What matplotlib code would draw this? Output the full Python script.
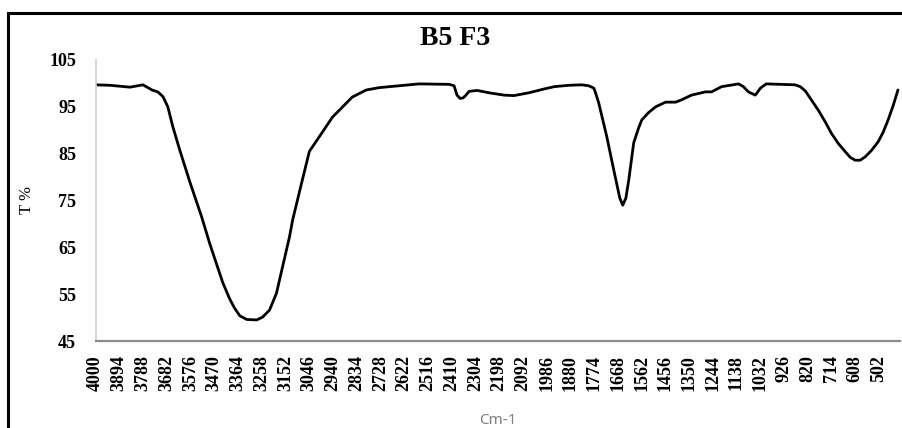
import numpy as np
import matplotlib

matplotlib.use('Agg')
import matplotlib.pyplot as plt
from matplotlib.lines import Line2D
from matplotlib.font_manager import FontProperties

# FTIR spectrum of sample B5 F3 (wavenumber in cm-1, transmittance in %)
wavenumber = [4000, 3935, 3846, 3788, 3748, 3722, 3699, 3677, 3655, 3624,
              3579, 3526, 3490, 3432, 3401, 3379, 3356, 3325, 3280, 3254,
              3223, 3192, 3165, 3134, 3120, 3080, 3045, 3001, 2942, 2853,
              2791, 2733, 2644, 2555, 2421, 2399, 2386, 2372, 2359, 2346,
              2332, 2296, 2243, 2176, 2132, 2065, 1998, 1953, 1887, 1829,
              1798, 1775, 1766, 1753, 1717, 1686, 1659, 1646, 1632, 1619,
              1597, 1575, 1561, 1530, 1499, 1455, 1410, 1383, 1339, 1276,
              1249, 1205, 1129, 1107, 1085, 1054, 1031, 1005, 876, 853,
              831, 804, 773, 742, 715, 684, 652, 630, 608, 586,
              564, 537, 506, 484, 461, 439, 417]
transmittance = [99.7, 99.6, 99.2, 99.7, 98.6, 98.2, 97.2, 95.0, 90.8, 85.8,
                 79.0, 71.5, 65.8, 57.5, 54.0, 52.0, 50.4, 49.6, 49.5, 50.1,
                 51.6, 55.2, 60.8, 67.2, 70.8, 78.7, 85.5, 88.6, 92.8, 97.1,
                 98.6, 99.1, 99.5, 99.9, 99.8, 99.5, 97.5, 96.8, 96.9, 97.5,
                 98.3, 98.5, 98.0, 97.5, 97.4, 98.0, 98.8, 99.3, 99.6, 99.7,
                 99.5, 99.0, 97.8, 95.8, 88.6, 81.5, 75.5, 74.0, 75.5, 79.4,
                 87.3, 90.5, 92.2, 93.8, 95.0, 96.0, 96.0, 96.5, 97.5, 98.2,
                 98.2, 99.3, 99.9, 99.3, 98.2, 97.5, 99.0, 99.9, 99.7, 99.3,
                 98.4, 96.5, 94.3, 91.8, 89.4, 87.2, 85.4, 84.2, 83.6, 83.6,
                 84.3, 85.6, 87.5, 89.5, 92.2, 95.2, 98.6]

xticks = np.arange(4000, 450, -106)
yticks = [45, 55, 65, 75, 85, 95, 105]

W, H = 902, 428
fig = plt.figure(figsize=(W / 100, H / 100), dpi=100)
ax = fig.add_axes([95.5 / W, (H - 341) / H, (900 - 95.5) / W, (341 - 60) / H])

ax.plot(wavenumber, transmittance, color='black', lw=2.0,
        solid_joinstyle='round', solid_capstyle='round')

ax.set_xlim(4000, 408)
ax.set_ylim(45, 105)
ax.set_xticks(xticks)
ax.set_xticklabels([str(t) for t in xticks], rotation=90)
ax.set_yticks(yticks)

tick_font = FontProperties(family='Liberation Serif', weight='bold', size=13)
for lab in ax.get_xticklabels() + ax.get_yticklabels():
    lab.set_fontproperties(tick_font)
ax.tick_params(axis='both', length=0)
ax.tick_params(axis='y', pad=14)
ax.tick_params(axis='x', pad=10)

for side in ['top', 'right']:
    ax.spines[side].set_visible(False)
ax.spines['left'].set_color('#d0d0d0')
ax.spines['left'].set_linewidth(1.2)
ax.spines['bottom'].set_color('#8c8c8c')
ax.spines['bottom'].set_linewidth(1.6)

fig.text(455 / W, 1 - 38.5 / H, 'B5 F3', ha='center', va='center',
         family='Liberation Serif', weight='bold', size=20)
fig.text(27 / W, 1 - 200 / H, 'T %', ha='center', va='center', rotation=90,
         family='Liberation Serif', size=12)
fig.text(498 / W, 1 - 420 / H, 'Cm-1', ha='center', va='center',
         family='Noto Sans', size=11, color='#7f7f7f')

# frame around the chart (top and left edges visible)
fig.add_artist(Line2D([8 / W, 1.0], [1 - 13 / H, 1 - 13 / H], color='black', lw=2.2))
fig.add_artist(Line2D([8 / W, 8 / W], [0, 1 - 13 / H], color='black', lw=2.2))

fig.savefig('out.png', dpi=100)
